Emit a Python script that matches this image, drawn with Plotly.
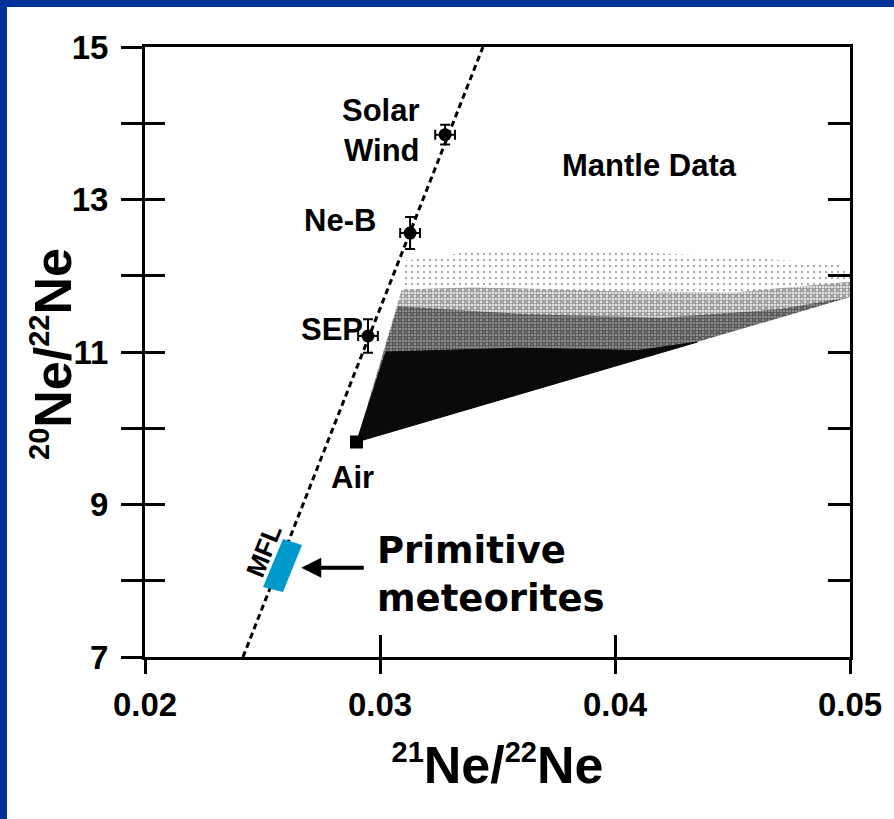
import plotly.graph_objects as go

# ---------------- data ----------------
# Mass fractionation line (MFL) end points
mfl_x = [0.02417, 0.03438]
mfl_y = [7.0, 15.0]

# Solar end-members with error bars
pt_names = ["Solar Wind", "Ne-B", "SEP"]
pt_x = [0.03277, 0.03128, 0.02949]
pt_y = [13.85, 12.56, 11.21]
pt_xerr = [0.00042, 0.00042, 0.00042]
pt_yerr = [0.13, 0.21, 0.22]

# Air
air_x = [0.0290]
air_y = [9.82]

# Mantle data envelopes (sparse, medium, dark, solid cores of the cloud)
sparse_x = [0.0290, 0.03092, 0.0311, 0.0340, 0.0400, 0.0450, 0.0495, 0.0500, 0.0500]
sparse_y = [9.82, 11.80, 12.20, 12.32, 12.32, 12.25, 12.15, 12.05, 11.72]
medium_x = [0.0290, 0.03092, 0.0340, 0.0400, 0.0450, 0.0497, 0.0500, 0.0500]
medium_y = [9.82, 11.82, 11.85, 11.80, 11.78, 11.92, 11.92, 11.72]
dark_x = [0.0290, 0.03075, 0.0360, 0.0420, 0.0470, 0.0500]
dark_y = [9.82, 11.60, 11.50, 11.45, 11.56, 11.72]
solid_x = [0.0290, 0.03025, 0.0360, 0.0410, 0.0435]
solid_y = [9.82, 11.00, 11.05, 11.02, 11.13]

# Primitive meteorites box (along MFL)
met_x = [0.025872, 0.026681, 0.025872, 0.025021]
met_y = [8.548, 8.469, 7.852, 7.918]

# Axis ticks
x_ticks = [0.02, 0.03, 0.04, 0.05]
x_ticklabels = ["0.02", "0.03", "0.04", "0.05"]
y_ticks = [7, 8, 9, 10, 11, 12, 13, 14, 15]
y_ticklabels = ["7", "", "9", "", "11", "", "13", "", "15"]

# ---------------- figure ----------------
fig = go.Figure()


def closed(a):
    return list(a) + [a[0]]


def cloud(xs, ys, size, solidity):
    return go.Scatter(
        x=closed(xs), y=closed(ys), mode="lines", line=dict(width=0),
        fill="toself", fillcolor="rgba(0,0,0,0)",
        fillpattern=dict(shape=".", size=size, solidity=solidity, fgcolor="#111111",
                         bgcolor="rgba(0,0,0,0)"),
        hoverinfo="skip", showlegend=False)


# Mantle data cloud
fig.add_trace(cloud(sparse_x, sparse_y, 6, 0.08))
fig.add_trace(cloud(medium_x, medium_y, 3, 0.5))
fig.add_trace(cloud(dark_x, dark_y, 3, 0.85))
fig.add_trace(go.Scatter(
    x=closed(solid_x), y=closed(solid_y), mode="lines",
    line=dict(width=1, color="#0a0a0a"),
    fill="toself", fillcolor="#0a0a0a",
    hoverinfo="skip", showlegend=False))

# MFL dashed line
fig.add_trace(go.Scatter(
    x=mfl_x, y=mfl_y, mode="lines",
    line=dict(color="black", width=3, dash="6px,4px"),
    hoverinfo="skip", showlegend=False))

# Primitive meteorites box
fig.add_trace(go.Scatter(
    x=closed(met_x), y=closed(met_y), mode="lines", line=dict(width=0),
    fill="toself", fillcolor="#0099cc",
    hoverinfo="skip", showlegend=False))

# Solar end-members
fig.add_trace(go.Scatter(
    x=pt_x, y=pt_y, mode="markers", text=pt_names,
    marker=dict(symbol="circle", size=13, color="black"),
    error_x=dict(type="data", array=pt_xerr, color="black", thickness=2, width=5),
    error_y=dict(type="data", array=pt_yerr, color="black", thickness=2, width=5),
    showlegend=False))

# Air
fig.add_trace(go.Scatter(
    x=air_x, y=air_y, mode="markers",
    marker=dict(symbol="square", size=13, color="black"),
    showlegend=False))

# page geometry (pixels) for the blue frame and title placement
W, H = 894, 819
ml, mr, mt, mb = 145, 44, 47, 162
pw, ph = W - ml - mr, H - mt - mb


def px2fx(p):
    return (p - ml) / pw


def py2fy(p):
    return (H - mb - p) / ph


lab_font = dict(family="Liberation Sans, Arial, sans-serif", size=31, color="black", weight="bold")
title_font = dict(family="Liberation Sans, Arial, sans-serif", size=52, color="black", weight="bold")
tick_font = dict(family="Liberation Sans, Arial, sans-serif", size=33, color="black", weight="bold")
sup = '<sup><span style="font-size:29px">{}</span></sup>'

annotations = [
    dict(x=0.03179, y=13.91, text="Solar<br>Wind", xanchor="right", yanchor="middle",
         align="right", showarrow=False, font=lab_font),
    dict(x=0.02991, y=12.73, text="Ne-B", xanchor="right", yanchor="middle",
         showarrow=False, font=lab_font),
    dict(x=0.02936, y=11.29, text="SEP", xanchor="right", yanchor="middle",
         showarrow=False, font=lab_font),
    dict(x=0.04145, y=13.45, text="Mantle Data", xanchor="center", yanchor="middle",
         showarrow=False, font=lab_font),
    dict(x=0.02881, y=9.36, text="Air", xanchor="center", yanchor="middle",
         showarrow=False, font=lab_font),
    dict(x=0.02508, y=8.40, text="MFL", textangle=-68, xanchor="center", yanchor="middle",
         showarrow=False, font=dict(family="Liberation Sans, Arial, sans-serif", size=26,
                                    color="black", weight="bold")),
    dict(x=0.02979, y=8.08, text="Primitive<br>meteorites", xanchor="left", yanchor="middle",
         align="left", showarrow=False,
         font=dict(family="DejaVu Sans, Verdana, sans-serif", size=37, color="black",
                   weight="bold")),
    dict(x=0.02665, y=8.17, ax=64, ay=0, text="", showarrow=True, arrowhead=2,
         arrowsize=1, arrowwidth=4, arrowcolor="black", xref="x", yref="y"),
    # y-axis title
    dict(xref="paper", yref="paper", x=px2fx(52), y=py2fy(354),
         text=sup.format("20") + "Ne/" + sup.format("22") + "Ne",
         textangle=-90, xanchor="center", yanchor="middle", showarrow=False,
         font=title_font),
]

blue = "#003399"
shapes = [
    dict(type="rect", xref="paper", yref="paper", x0=px2fx(-2), x1=px2fx(7),
         y0=py2fy(H + 2), y1=py2fy(-2), fillcolor=blue, line=dict(width=0), layer="above"),
    dict(type="rect", xref="paper", yref="paper", x0=px2fx(-2), x1=px2fx(W + 2),
         y0=py2fy(7), y1=py2fy(-2), fillcolor=blue, line=dict(width=0), layer="above"),
]

fig.update_layout(
    width=W, height=H,
    margin=dict(l=ml, r=mr, t=mt, b=mb, pad=0),
    paper_bgcolor="white", plot_bgcolor="white",
    showlegend=False,
    annotations=annotations,
    shapes=shapes,
    xaxis=dict(
        range=[0.02, 0.05], tickvals=x_ticks, ticktext=x_ticklabels,
        ticks="outside", ticklen=14, tickwidth=2.5, tickcolor="black",
        showline=True, linewidth=3, linecolor="black", mirror=True,
        showgrid=False, zeroline=False, tickfont=tick_font, ticklabelstandoff=2,
        title=dict(text=sup.format("21") + "Ne/" + sup.format("22") + "Ne",
                   font=title_font, standoff=26),
    ),
    xaxis2=dict(
        range=[0.02, 0.05], overlaying="x", side="bottom", anchor="y",
        tickvals=x_ticks, ticks="inside", ticklen=22, tickwidth=2.5, tickcolor="black",
        showticklabels=False, showline=False, showgrid=False, zeroline=False,
    ),
    yaxis=dict(
        range=[7, 15], tickvals=y_ticks, ticktext=y_ticklabels,
        ticks="outside", ticklen=21, tickwidth=2.5, tickcolor="black",
        showline=True, linewidth=3, linecolor="black", mirror=True,
        showgrid=False, zeroline=False, tickfont=tick_font, ticklabelstandoff=6,
    ),
    yaxis2=dict(
        range=[7, 15], overlaying="y", side="left", anchor="x",
        tickvals=y_ticks, ticks="inside", ticklen=20, tickwidth=2.5, tickcolor="black",
        showticklabels=False, showline=False, showgrid=False, zeroline=False,
    ),
    yaxis3=dict(
        range=[7, 15], overlaying="y", side="right", anchor="x",
        tickvals=y_ticks, ticks="inside", ticklen=22, tickwidth=2.5, tickcolor="black",
        showticklabels=False, showline=False, showgrid=False, zeroline=False,
    ),
)

# invisible traces so the overlay axes are drawn
fig.add_trace(go.Scatter(x=[0.02], y=[7], xaxis="x2", yaxis="y2", mode="markers",
                         marker=dict(opacity=0), hoverinfo="skip", showlegend=False))
fig.add_trace(go.Scatter(x=[0.02], y=[7], xaxis="x", yaxis="y3", mode="markers",
                         marker=dict(opacity=0), hoverinfo="skip", showlegend=False))

fig.write_html("out.html", config=dict(displayModeBar=False))
